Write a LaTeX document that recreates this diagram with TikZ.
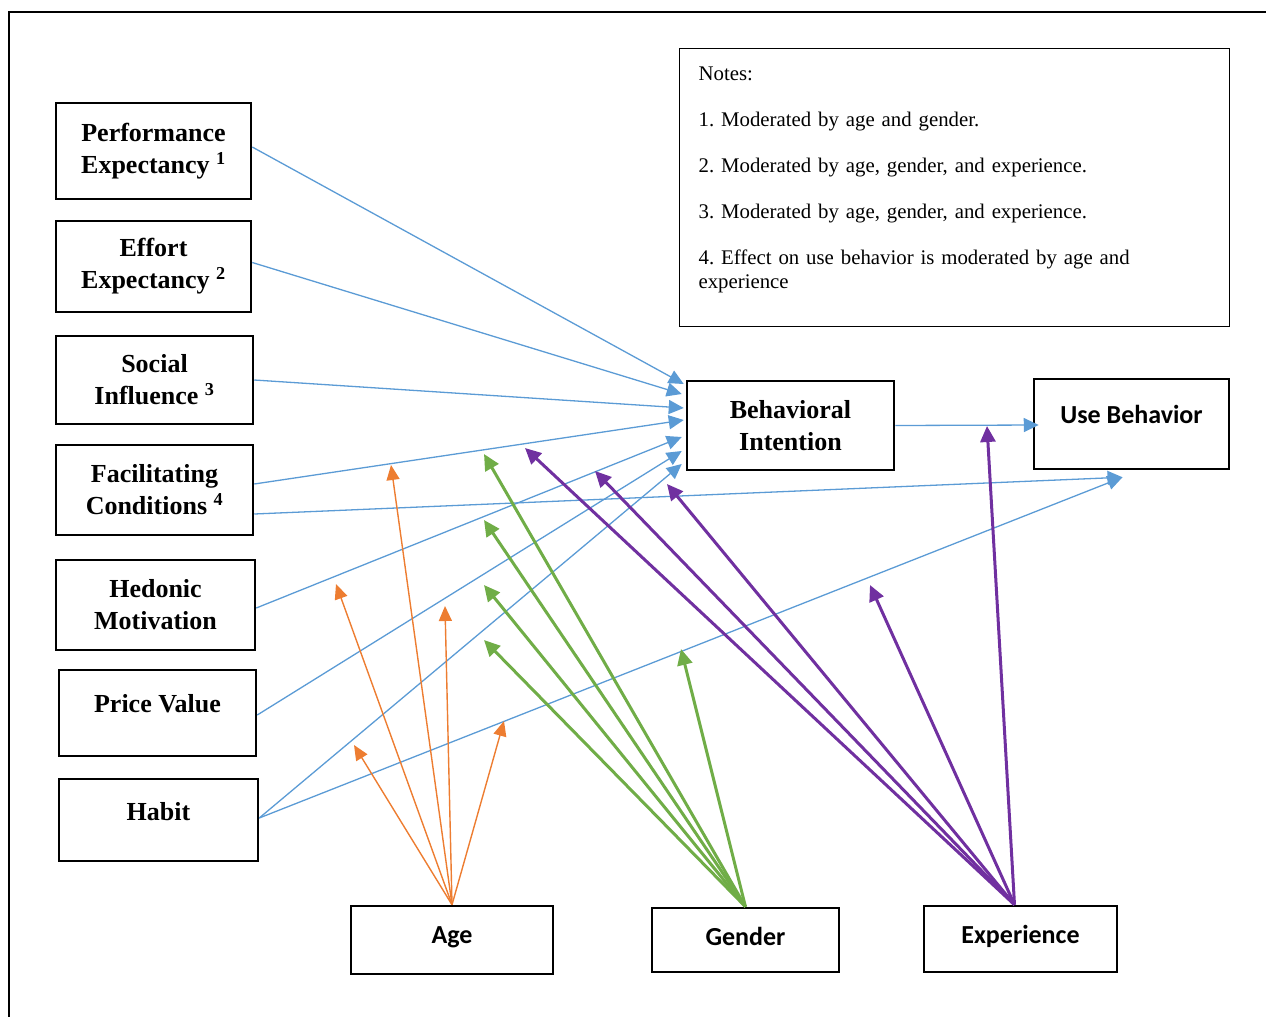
\documentclass[tikz,border=0pt]{standalone}
\usepackage{fontspec}
\setmainfont{Liberation Serif}
\newfontfamily\calibri{Carlito}
\usetikzlibrary{positioning,arrows.meta}
\definecolor{ublue}{RGB}{91,155,213}
\definecolor{uorange}{RGB}{237,125,49}
\definecolor{ugreen}{RGB}{112,173,71}
\definecolor{upurple}{RGB}{112,48,160}
\tikzstyle{factorbox} = [draw=black, line width=2.5pt, rectangle, align=center,
    inner sep=0pt, font=\fontsize{26}{32}\selectfont\bfseries]
\tikzstyle{calbox} = [draw=black, line width=2.5pt, rectangle, align=center,
    inner sep=0pt, font=\calibri\fontsize{26}{32}\selectfont\bfseries]
\tikzstyle{notesbox} = [draw=black, line width=1.2pt, rectangle, align=left,
    inner xsep=19pt, inner ysep=0pt, text width=512pt,
    font=\fontsize{20.8}{24}\selectfont\frenchspacing]
\tikzstyle{bluearrow} = [draw=ublue, line width=1.3pt, -{Triangle[length=15pt,width=14pt]}]
\tikzstyle{agearrow} = [draw=uorange, line width=1.4pt, -{Triangle[length=15pt,width=13pt]}]
\tikzstyle{genderarrow} = [draw=ugreen, line width=3pt, -{Triangle[length=16pt,width=15pt]}]
\tikzstyle{exparrow} = [draw=upurple, line width=3pt, -{Triangle[length=16pt,width=15pt]}]

\begin{document}
\begin{tikzpicture}[x=1pt,y=-1pt]
\useasboundingbox (0,0) rectangle (1266,1017);

% frame
\draw[line width=2.5pt] (9,1017) -- (9,12) -- (1266,12);

% constructs
\node [factorbox, minimum width=195pt, minimum height=96pt] (pe) at (153.5,151)
    {Performance\\Expectancy \textsuperscript{1}};
\node [factorbox, minimum width=195pt, minimum height=91pt, below=19.5pt of pe] (ee)
    {Effort\\Expectancy \textsuperscript{2}};
\node [factorbox, minimum width=197pt, minimum height=88pt, below=21.5pt of ee, xshift=1pt] (si)
    {Social\\Influence \textsuperscript{3}};
\node [factorbox, minimum width=197pt, minimum height=90pt, below=18.5pt of si] (fc)
    {Facilitating\\Conditions \textsuperscript{4}};
\node [factorbox, minimum width=199pt, minimum height=90pt, below=22.5pt of fc, xshift=1pt] (hm)
    {Hedonic\\Motivation};
\node [factorbox, minimum width=197pt, minimum height=86pt, text depth=20pt,
    below=17.5pt of hm, xshift=2pt] (pv) {Price Value};
\node [factorbox, minimum width=199pt, minimum height=82pt, text depth=18pt,
    below=20.5pt of pv, xshift=1pt] (habit) {Habit};

\node [factorbox, minimum width=207pt, minimum height=89pt] (bi) at (790.5,425.5)
    {Behavioral\\Intention};
\node [calbox, minimum width=195pt, minimum height=90pt, text depth=20pt] (ub) at (1131.5,424)
    {Use Behavior};

% moderators
\node [calbox, minimum width=202pt, minimum height=68pt, text depth=10pt] (age) at (452,940) {Age};
\node [calbox, minimum width=187pt, minimum height=64pt, text depth=8pt] (gender) at (745.5,940) {Gender};
\node [calbox, minimum width=193pt, minimum height=66pt, text depth=10pt] (exp) at (1020.5,939) {Experience};

% notes
\node [notesbox, anchor=north west, text height=32pt, text depth=246pt] (notes) at (679,48)
    {Notes:\\[22pt]
     1. Moderated by age and gender.\\[22pt]
     2. Moderated by age, gender, and experience.\\[22pt]
     3. Moderated by age, gender, and experience.\\[22pt]
     4. Effect on use behavior is moderated by age and\\
     experience};

% direct effects
\draw [bluearrow] ([shift={(0,-4)}]pe.east) -- ([shift={(-2,-41.5)}]bi.west);
\draw [bluearrow] ([shift={(0,-4)}]ee.east) -- ([shift={(-4,-31.5)}]bi.west);
\draw [bluearrow] (si.east) -- ([shift={(-2,-17.5)}]bi.west);
\draw [bluearrow] ([shift={(0,-6)}]fc.east) -- ([shift={(-2,-5.5)}]bi.west);
\draw [bluearrow] ([shift={(0,3)}]hm.east) -- ([shift={(-4,11.5)}]bi.west);
\draw [bluearrow] ([shift={(0,2)}]pv.east) -- ([shift={(-4,25.5)}]bi.west);
\draw [bluearrow] ([shift={(0,-2)}]habit.east) -- ([shift={(-4,38.5)}]bi.west);
\draw [bluearrow] (bi.east) -- ([shift={(6,1)}]ub.west);
\draw [bluearrow] ([shift={(0,24)}]fc.east) -- ([shift={(-9,7)}]ub.south);
\draw [bluearrow] ([shift={(0,-2)}]habit.east) -- ([shift={(-9,7)}]ub.south);

% moderating effects
\coordinate (age1) at (391,465);
\coordinate (age2) at (336,584);
\coordinate (age3) at (445,606);
\coordinate (age4) at (354,745);
\coordinate (age5) at (504,721);
\draw [agearrow] (age.north) -- (age1);
\draw [agearrow] (age.north) -- (age2);
\draw [agearrow] (age.north) -- (age3);
\draw [agearrow] (age.north) -- (age4);
\draw [agearrow] (age.north) -- (age5);

\coordinate (gen1) at (484,454);
\coordinate (gen2) at (484,520);
\coordinate (gen3) at (484,585);
\coordinate (gen4) at (484,640);
\coordinate (gen5) at (681,649);
\draw [genderarrow] (gender.north) -- (gen1);
\draw [genderarrow] (gender.north) -- (gen2);
\draw [genderarrow] (gender.north) -- (gen3);
\draw [genderarrow] (gender.north) -- (gen4);
\draw [genderarrow] (gender.north) -- (gen5);

\coordinate (exp1) at (525,448);
\coordinate (exp2) at (595,471);
\coordinate (exp3) at (667,484);
\coordinate (exp4) at (870,585);
\coordinate (exp5) at (987,426);
\draw [exparrow] ([shift={(-6,0)}]exp.north) -- (exp1);
\draw [exparrow] ([shift={(-6,0)}]exp.north) -- (exp2);
\draw [exparrow] ([shift={(-6,0)}]exp.north) -- (exp3);
\draw [exparrow] ([shift={(-6,0)}]exp.north) -- (exp4);
\draw [exparrow] ([shift={(-6,0)}]exp.north) -- (exp5);

\end{tikzpicture}
\end{document}
